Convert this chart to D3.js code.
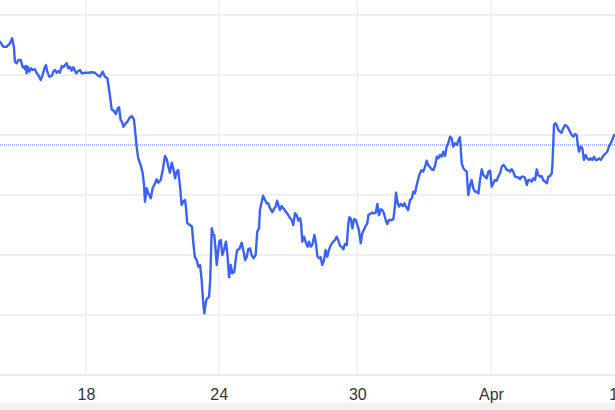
<!DOCTYPE html>
<html>
<head>
<meta charset="utf-8">
<script src="https://cdn.jsdelivr.net/npm/d3@7"></script>
<style>
  html, body { margin: 0; padding: 0; background: #ffffff; overflow: hidden; }
  svg { display: block; }
</style>
</head>
<body>
<svg id="chart" width="615" height="410"></svg>
<script>
// Session position (days from the "18" tick) and price values
const times = [
  -3.82,-3.68,-3.52,-3.38,-3.28,-3.20,-3.16,-3.08,-3.01,-2.90,-2.81,-2.76,-2.71,-2.67,-2.64,-2.58,-2.52,-2.44,-2.37,-2.27,
  -2.19,-2.12,-2.01,-1.92,-1.85,-1.78,-1.72,-1.63,-1.52,-1.45,-1.38,-1.30,-1.23,-1.16,-1.08,-1.01,-0.93,-0.86,-0.79,-0.71,
  -0.64,-0.56,-0.44,-0.37,-0.27,-0.18,-0.04,0.10,0.25,0.40,0.50,0.62,0.74,0.84,0.95,1.04,1.14,1.24,1.33,1.41,
  1.47,1.54,1.60,1.66,1.73,1.84,1.96,2.04,2.13,2.18,2.25,2.32,2.43,2.52,2.58,2.62,2.70,2.77,2.88,2.96,
  3.07,3.14,3.21,3.32,3.41,3.51,3.59,3.66,3.73,3.81,3.88,3.96,4.03,4.10,4.18,4.25,4.32,4.40,4.44,4.50,
  4.62,4.71,4.77,4.84,4.92,4.99,5.07,5.14,5.21,5.26,5.32,5.36,5.47,5.52,5.59,5.66,5.70,5.76,5.81,5.88,
  5.92,5.99,6.06,6.15,6.22,6.28,6.36,6.43,6.50,6.59,6.67,6.72,6.81,6.92,6.99,7.07,7.14,7.21,7.29,7.36,
  7.44,7.54,7.61,7.69,7.73,7.81,7.87,7.96,8.03,8.10,8.18,8.28,8.37,8.44,8.49,8.55,8.62,8.70,8.77,8.88,
  8.99,9.07,9.14,9.21,9.29,9.36,9.44,9.51,9.56,9.61,9.69,9.78,9.85,9.91,9.99,10.06,10.15,10.21,10.28,10.36,
  10.43,10.50,10.58,10.65,10.72,10.80,10.88,10.95,11.07,11.14,11.21,11.29,11.36,11.44,11.51,11.59,11.66,11.70,11.76,11.84,
  11.91,11.99,12.06,12.13,12.21,12.28,12.36,12.43,12.50,12.55,12.62,12.72,12.80,12.88,12.95,13.02,13.10,13.17,13.24,13.32,
  13.39,13.47,13.59,13.66,13.73,13.78,13.84,13.91,14.00,14.08,14.15,14.22,14.32,14.40,14.48,14.55,14.62,14.70,14.77,14.84,
  14.92,14.99,15.07,15.14,15.21,15.29,15.36,15.44,15.51,15.59,15.66,15.73,15.81,15.88,15.96,16.03,16.10,16.18,16.25,16.32,
  16.40,16.48,16.55,16.62,16.70,16.77,16.84,16.92,16.99,17.07,17.14,17.21,17.29,17.36,17.44,17.51,17.59,17.66,17.73,17.81,
  17.88,17.96,18.03,18.10,18.18,18.25,18.32,18.40,18.48,18.55,18.62,18.70,18.77,18.84,18.92,18.99,19.07,19.14,19.21,19.29,
  19.36,19.44,19.51,19.59,19.66,19.73,19.81,19.88,19.96,20.03,20.10,20.18,20.25,20.32,20.40,20.48,20.55,20.62,20.70,20.73,
  20.80,20.86,20.92,20.99,21.07,21.14,21.21,21.29,21.36,21.44,21.51,21.59,21.66,21.73,21.81,21.85,21.91,21.99,22.06,22.13,
  22.21,22.28,22.36,22.43,22.50,22.58,22.65,22.72,22.80,22.88,22.95,23.02,23.10,23.17,23.24,23.32,23.39,23.47
];
const prices = [
  102.78,102.36,102.36,102.64,103.06,102.25,101.11,100.98,101.25,101.25,100.64,100.69,100.48,100.75,100.14,100.69,100.28,100.56,100.42,100.48,
  100.14,100.00,99.58,100.06,100.56,100.83,100.28,99.86,99.92,100.28,100.42,100.19,100.33,100.19,100.75,100.64,100.83,100.98,100.56,100.69,
  100.36,100.64,100.14,100.28,100.42,100.14,100.19,100.19,100.23,100.19,100.00,99.86,100.28,99.86,99.73,98.61,97.14,97.00,96.75,97.23,
  97.31,96.25,96.11,95.69,95.89,96.11,96.48,96.58,96.31,95.42,94.03,93.06,92.50,91.81,90.83,89.44,90.56,90.14,89.73,90.56,
  90.98,91.31,91.03,91.25,92.08,93.25,92.98,92.36,91.86,92.69,92.23,91.39,91.94,92.08,90.69,89.17,89.44,89.58,89.03,87.64,
  87.50,87.36,85.98,84.81,84.58,84.03,84.17,82.92,80.98,80.14,80.98,81.31,81.53,82.92,87.23,86.67,86.67,85.42,84.17,85.42,
  86.11,86.25,85.00,85.56,86.11,85.14,83.14,84.17,83.48,83.61,84.86,85.42,85.48,86.03,85.42,84.58,84.81,85.48,85.56,85.00,
  84.73,85.00,86.94,87.23,88.75,89.44,89.94,89.58,89.31,89.31,88.89,88.56,88.89,89.08,89.53,89.17,88.75,89.08,88.89,88.61,
  88.33,88.06,87.92,87.50,88.48,88.33,87.86,88.06,87.64,86.11,86.53,85.98,85.69,86.11,85.69,85.83,86.67,86.11,84.92,84.73,
  84.81,84.17,84.58,85.42,84.86,85.42,85.83,86.03,86.25,86.53,86.25,85.75,85.69,85.48,85.92,85.83,87.64,88.14,88.06,87.23,
  87.98,87.92,87.50,87.08,85.98,86.81,87.14,87.42,87.64,88.33,88.42,88.53,88.48,88.53,89.25,88.33,88.81,88.75,88.48,87.92,
  87.58,87.92,87.92,87.98,89.03,90.19,89.44,89.03,89.25,89.08,89.31,89.03,88.75,89.58,89.73,90.28,90.14,90.83,91.39,91.81,
  92.08,91.94,92.36,92.86,92.50,92.31,92.14,92.08,92.42,93.19,93.06,93.33,93.19,93.61,93.25,94.03,94.31,94.86,94.73,94.03,
  94.31,94.17,94.58,94.81,92.64,92.23,92.08,91.94,90.00,90.83,91.25,90.56,90.28,90.28,90.14,91.25,92.14,91.67,91.53,91.39,
  91.94,92.03,90.69,90.98,91.25,91.19,91.53,91.81,92.36,92.50,92.36,92.08,92.08,91.94,92.14,91.94,91.53,91.48,91.48,91.31,
  91.53,91.53,91.44,90.83,91.25,91.25,91.11,91.39,91.25,92.14,91.67,91.53,91.58,91.25,91.11,90.98,91.53,91.58,91.81,92.50,
  95.83,95.98,95.83,95.42,95.28,95.19,95.56,95.83,95.75,95.56,95.28,95.00,94.86,95.08,95.00,94.31,93.61,94.03,93.89,92.92,
  93.33,93.06,92.92,93.06,92.92,93.19,92.92,92.92,93.06,92.92,93.14,93.33,93.48,93.61,94.03,94.31,94.58,95.00
];
const previousClose = 94.17;
const tickPositions = [0, 5.9, 12.06, 18, 23.6];
const tickLabels = ["18", "24", "30", "Apr", "11"];
const yTicks = [75, 80, 85, 90, 95, 100, 105];

const W = 615, H = 410;
const plotBottom = 375;
const svg = d3.select("#chart");

const x = d3.scaleLinear().domain([0, 18]).range([86, 491]);
const y = d3.scaleLinear().domain([75, 105]).range([plotBottom, 15]);

// bottom grey band
svg.append("rect").attr("x", 0).attr("y", 403).attr("width", W).attr("height", H - 403)
  .attr("fill", "#f1f1f2");

// horizontal grid
svg.append("g").selectAll("line").data(yTicks.filter(v => v > 75)).join("line")
  .attr("x1", 0).attr("x2", W)
  .attr("y1", d => y(d)).attr("y2", d => y(d))
  .attr("stroke", "#ebebeb").attr("stroke-width", 1.6);

// vertical grid
svg.append("g").selectAll("line").data(tickPositions).join("line")
  .attr("x1", d => x(d)).attr("x2", d => x(d))
  .attr("y1", 0).attr("y2", plotBottom)
  .attr("stroke", "#f0f0f2").attr("stroke-width", 1.6);

// x axis
const xAxis = d3.axisBottom(x)
  .tickValues(tickPositions)
  .tickFormat((d, i) => tickLabels[i])
  .tickSize(0)
  .tickPadding(14);
const gx = svg.append("g").attr("transform", `translate(0,${plotBottom})`).call(xAxis);
gx.select(".domain").remove();
gx.selectAll("text")
  .attr("font-family", "'Liberation Sans', Arial, Helvetica, sans-serif")
  .attr("font-size", 16)
  .attr("fill", "#333333");
svg.append("line").attr("x1", 0).attr("x2", W)
  .attr("y1", y(75)).attr("y2", y(75))
  .attr("stroke", "#e4e4e6").attr("stroke-width", 1.6);

// previous close dotted line
svg.append("line")
  .attr("x1", 0).attr("x2", W)
  .attr("y1", y(previousClose)).attr("y2", y(previousClose))
  .attr("stroke", "#5577f0").attr("stroke-width", 1)
  .attr("stroke-dasharray", "1,1");

// price line
const data = times.map((t, i) => ({ t, v: prices[i] }));
const line = d3.line().x(d => x(d.t)).y(d => y(d.v)).curve(d3.curveLinear);
svg.append("path").datum(data)
  .attr("d", line)
  .attr("fill", "none")
  .attr("stroke", "#3a63f3")
  .attr("stroke-width", 2.4)
  .attr("stroke-linejoin", "round")
  .attr("stroke-linecap", "round");
</script>
</body>
</html>
